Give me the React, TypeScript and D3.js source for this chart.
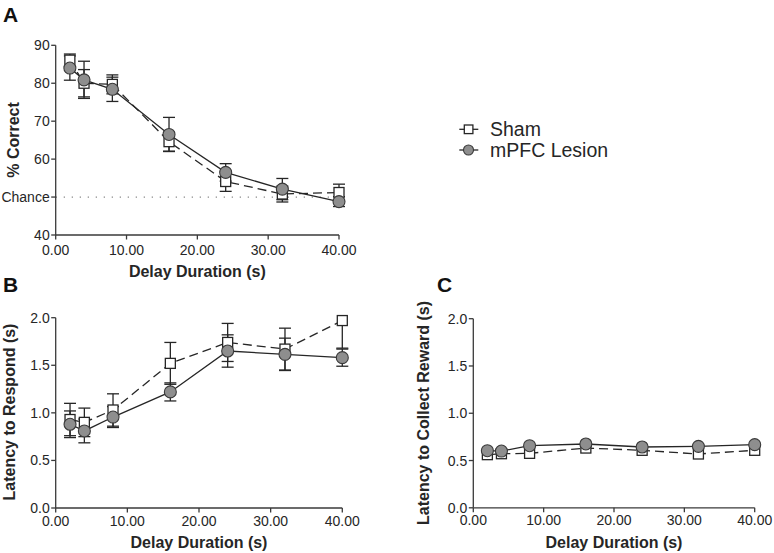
import React from "react";
import * as d3 from "d3";

// ---------- data ----------
const delays = [2, 4, 8, 16, 24, 32, 40];
const xTicks = [0, 10, 20, 30, 40];
const seriesNames = ["Sham", "mPFC Lesion"];

// Panel A: % correct
const correctSham = [86.1, 80.0, 79.7, 64.6, 54.1, 50.8, 51.2];
const correctShamSem = [1.6, 3.6, 2.5, 2.5, 2.6, 2.1, 2.2];
const correctLesion = [84.0, 80.9, 78.4, 66.5, 56.5, 52.1, 48.8];
const correctLesionSem = [3.2, 4.9, 3.2, 4.5, 2.3, 2.8, 1.3];
const correctTicks = [40, 50, 60, 70, 80, 90];
const correctTickLabels = ["40", "Chance", "60", "70", "80", "90"];
const chanceLevel = 50;

// Panel B: latency to respond
const respondSham = [0.93, 0.9, 1.03, 1.52, 1.74, 1.67, 1.97];
const respondShamSem = [0.17, 0.15, 0.17, 0.22, 0.2, 0.22, 0.29];
const respondLesion = [0.88, 0.81, 0.956, 1.22, 1.65, 1.615, 1.58];
const respondLesionSem = [0.14, 0.125, 0.11, 0.095, 0.17, 0.17, 0.09];

// Panel C: latency to collect reward
const rewardSham = [0.562, 0.572, 0.576, 0.632, 0.608, 0.569, 0.608];
const rewardLesion = [0.604, 0.6, 0.657, 0.675, 0.643, 0.65, 0.668];

const latencyTicks = [0, 0.5, 1.0, 1.5, 2.0];

// ---------- styles ----------
const FONT = "'Liberation Sans', Arial, Helvetica, sans-serif";
const INK = "#262626";
const AXIS = "#3a3a3a";
const LESION_FILL = "#8e8e8e";

type Series = { values: number[]; sem?: number[]; dashed: boolean; marker: "square" | "circle" };

type PanelProps = {
  label: string;
  labelPos: [number, number];
  xRange: [number, number];
  yRange: [number, number];
  yDomain: [number, number];
  yTicks: number[];
  yTickFmt: (v: number, i: number) => string;
  yTitle: string;
  yTitlePos: [number, number];
  xTickDy: number;
  xTitleY: number;
  series: Series[];
  chance?: number;
};

function Panel(p: PanelProps) {
  const x = d3.scaleLinear().domain([0, 40]).range(p.xRange);
  const y = d3.scaleLinear().domain(p.yDomain).range(p.yRange);
  const [x0, x1] = p.xRange;
  const [yb, yt] = p.yRange;
  const line = d3
    .line<number>()
    .x((_, i) => x(delays[i]))
    .y((d) => y(d));
  const fmtX = d3.format(".2f");
  const capW = 6;

  const errorBars = (s: Series, si: number) =>
    s.sem
      ? s.values.map((v, i) => {
          const hi = v + s.sem![i];
          const lo = v - s.sem![i];
          const hiC = Math.min(hi, p.yDomain[1]);
          const loC = Math.max(lo, p.yDomain[0]);
          const cx = x(delays[i]);
          return (
            <g key={`e${si}-${i}`} stroke={INK} strokeWidth={1.3}>
              <line x1={cx} x2={cx} y1={y(loC)} y2={y(hiC)} />
              {hi <= p.yDomain[1] && <line x1={cx - capW} x2={cx + capW} y1={y(hi)} y2={y(hi)} />}
              {lo >= p.yDomain[0] && <line x1={cx - capW} x2={cx + capW} y1={y(lo)} y2={y(lo)} />}
            </g>
          );
        })
      : null;

  const markers = (s: Series, si: number) =>
    s.values.map((v, i) =>
      s.marker === "square" ? (
        <rect
          key={`m${si}-${i}`}
          x={x(delays[i]) - 5}
          y={y(v) - 5}
          width={10}
          height={10}
          fill="#fff"
          stroke={INK}
          strokeWidth={1.3}
        />
      ) : (
        <circle key={`m${si}-${i}`} cx={x(delays[i])} cy={y(v)} r={6} fill={LESION_FILL} stroke="#3a3a3a" strokeWidth={1.1} />
      )
    );

  return (
    <g fontFamily={FONT}>
      <text x={p.labelPos[0]} y={p.labelPos[1]} fontSize={21} fontWeight="bold" fill="#111">
        {p.label}
      </text>
      {p.chance !== undefined && (
        <line
          x1={x0}
          x2={x(40)}
          y1={y(p.chance)}
          y2={y(p.chance)}
          stroke="#8a8a8a"
          strokeWidth={1.3}
          strokeDasharray="1.3,6.7"
        />
      )}
      {/* axes */}
      <line x1={x0} x2={x0} y1={yb} y2={yt} stroke={AXIS} strokeWidth={1.3} />
      <line x1={x0} x2={x1} y1={yb} y2={yb} stroke={AXIS} strokeWidth={1.3} />
      {p.yTicks.map((t, i) => (
        <g key={`yt${i}`}>
          <line x1={x0 - 4.5} x2={x0} y1={y(t)} y2={y(t)} stroke={AXIS} strokeWidth={1.3} />
          <text x={x0 - 6} y={y(t)} dy="0.36em" textAnchor="end" fontSize={14} fill={INK}>
            {p.yTickFmt(t, i)}
          </text>
        </g>
      ))}
      {xTicks.map((t, i) => (
        <g key={`xt${i}`}>
          <line x1={x(t)} x2={x(t)} y1={yb} y2={yb + 4.5} stroke={AXIS} strokeWidth={1.3} />
          <text x={x(t)} y={yb + p.xTickDy} textAnchor="middle" fontSize={14} fill={INK}>
            {fmtX(t)}
          </text>
        </g>
      ))}
      <text
        x={(x0 + x1) / 2}
        y={p.xTitleY}
        textAnchor="middle"
        fontSize={16}
        fontWeight="bold"
        fill={INK}
      >
        Delay Duration (s)
      </text>
      <text
        transform={`translate(${p.yTitlePos[0]},${p.yTitlePos[1]}) rotate(-90)`}
        textAnchor="middle"
        fontSize={16}
        fontWeight="bold"
        fill={INK}
      >
        {p.yTitle}
      </text>
      {/* data */}
      {p.series.map((s, si) => errorBars(s, si))}
      {p.series.map((s, si) => (
        <path
          key={`l${si}`}
          d={line(s.values) || ""}
          fill="none"
          stroke={INK}
          strokeWidth={1.3}
          strokeDasharray={s.dashed ? "9,5" : undefined}
        />
      ))}
      {p.series.map((s, si) => markers(s, si))}
    </g>
  );
}

export default function App() {
  const latFmt = d3.format(".1f");
  return (
    <svg
      width={774}
      height={553}
      viewBox="0 0 774 553"
      style={{ position: "absolute", left: 0, top: 0, background: "#fff" }}
    >
      <rect width={774} height={553} fill="#fff" />
      <Panel
        label="A"
        labelPos={[3, 22]}
        xRange={[55.7, 339]}
        yRange={[235, 45.3]}
        yDomain={[40, 90]}
        yTicks={correctTicks}
        yTickFmt={(_, i) => correctTickLabels[i]}
        yTitle="% Correct"
        yTitlePos={[19, 140]}
        xTickDy={19.5}
        xTitleY={277}
        chance={chanceLevel}
        series={[
          { values: correctSham, sem: correctShamSem, dashed: true, marker: "square" },
          { values: correctLesion, sem: correctLesionSem, dashed: false, marker: "circle" },
        ]}
      />
      <Panel
        label="B"
        labelPos={[3, 292]}
        xRange={[55.7, 342.3]}
        yRange={[508, 317.7]}
        yDomain={[0, 2]}
        yTicks={latencyTicks}
        yTickFmt={(v) => latFmt(v)}
        yTitle="Latency to Respond (s)"
        yTitlePos={[15, 412]}
        xTickDy={17.5}
        xTitleY={548}
        series={[
          { values: respondSham, sem: respondShamSem, dashed: true, marker: "square" },
          { values: respondLesion, sem: respondLesionSem, dashed: false, marker: "circle" },
        ]}
      />
      <Panel
        label="C"
        labelPos={[437, 292]}
        xRange={[473.3, 754.7]}
        yRange={[507.8, 318.7]}
        yDomain={[0, 2]}
        yTicks={latencyTicks}
        yTickFmt={(v) => latFmt(v)}
        yTitle="Latency to Collect Reward (s)"
        yTitlePos={[429, 413]}
        xTickDy={17.5}
        xTitleY={548}
        series={[
          { values: rewardSham, dashed: true, marker: "square" },
          { values: rewardLesion, dashed: false, marker: "circle" },
        ]}
      />
      {/* legend */}
      <g fontFamily={FONT}>
        <line x1={459.3} x2={478.3} y1={129.3} y2={129.3} stroke={INK} strokeWidth={1.3} />
        <rect x={464.3} y={125} width={8.6} height={8.6} fill="#fff" stroke={INK} strokeWidth={1.3} />
        <text x={490} y={136} fontSize={19.5} fill={INK}>
          {seriesNames[0]}
        </text>
        <line x1={459.3} x2={478.3} y1={150} y2={150} stroke={INK} strokeWidth={1.3} />
        <circle cx={468.5} cy={150} r={5} fill={LESION_FILL} stroke="#3a3a3a" strokeWidth={1.1} />
        <text x={490} y={157} fontSize={19.5} fill={INK}>
          {seriesNames[1]}
        </text>
      </g>
    </svg>
  );
}
